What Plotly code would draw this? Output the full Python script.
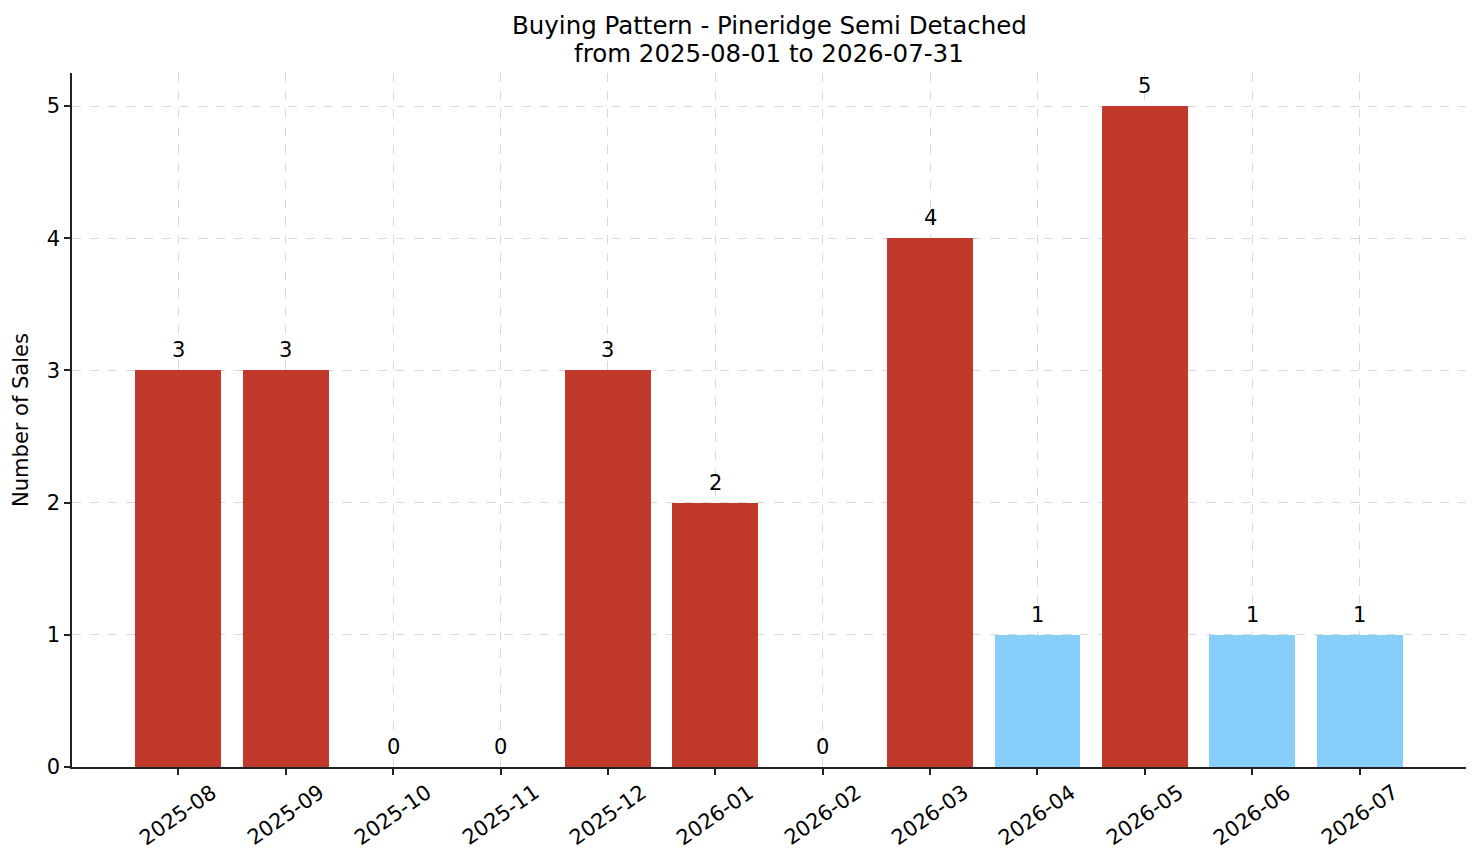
import plotly.graph_objects as go

months = ["2025-08", "2025-09", "2025-10", "2025-11", "2025-12", "2026-01",
          "2026-02", "2026-03", "2026-04", "2026-05", "2026-06", "2026-07"]
sales = [3, 3, 0, 0, 3, 2, 0, 4, 1, 5, 1, 1]
title_lines = ["Buying Pattern - Pineridge Semi Detached",
               "from 2025-08-01 to 2026-07-31"]

RED = "#c0392b"
BLUE = "#87cefa"
colors = [RED if v >= 2 else BLUE for v in sales]
xpos = list(range(len(months)))

fig = go.Figure()
fig.add_trace(go.Bar(
    x=xpos, y=sales, width=0.8, marker_color=colors,
    marker_line_width=0, showlegend=False, hoverinfo="y",
))

# value labels above each bar
for x, v in zip(xpos, sales):
    fig.add_annotation(x=x, y=v, text=str(v), showarrow=False,
                       yanchor="middle", yshift=20,
                       font=dict(size=21, color="black"))

# rotated month labels, centred under each tick (matplotlib style)
for x, m in zip(xpos, months):
    fig.add_annotation(x=x, y=0, xref="x", yref="paper", text=m,
                       showarrow=False, textangle=-35,
                       xanchor="center", yanchor="middle", yshift=-48,
                       font=dict(size=21, color="black"))

# two-line title, centred over the plot area
for line, shift in zip(title_lines, [48, 20]):
    fig.add_annotation(x=0.5, y=1, xref="paper", yref="paper", text=line,
                       showarrow=False, xanchor="center", yanchor="middle",
                       yshift=shift, font=dict(size=24.5, color="black"))

font = "DejaVu Sans, sans-serif"
fig.update_layout(
    width=1473, height=855,
    paper_bgcolor="white", plot_bgcolor="white",
    margin=dict(l=62, r=15, t=65, b=96),
    font=dict(family=font, size=21, color="black"),
    bargap=0,
)
axis_common = dict(
    showline=True, linecolor="#222222", linewidth=1.5,
    ticks="outside", ticklen=6, tickcolor="#222222", tickwidth=1.5,
    showgrid=True, gridcolor="#d9d9d9", griddash="dash", gridwidth=1,
    zeroline=False, layer="above traces",
)
fig.update_xaxes(range=[-0.99, 11.99], tickvals=xpos, showticklabels=False,
                 **axis_common)
fig.update_yaxes(
    range=[0, 5.25], tickvals=[0, 1, 2, 3, 4, 5], tickfont=dict(size=21),
    title=dict(text="Number of Sales", font=dict(size=21), standoff=12),
    **axis_common,
)

fig.write_html("out.html")
